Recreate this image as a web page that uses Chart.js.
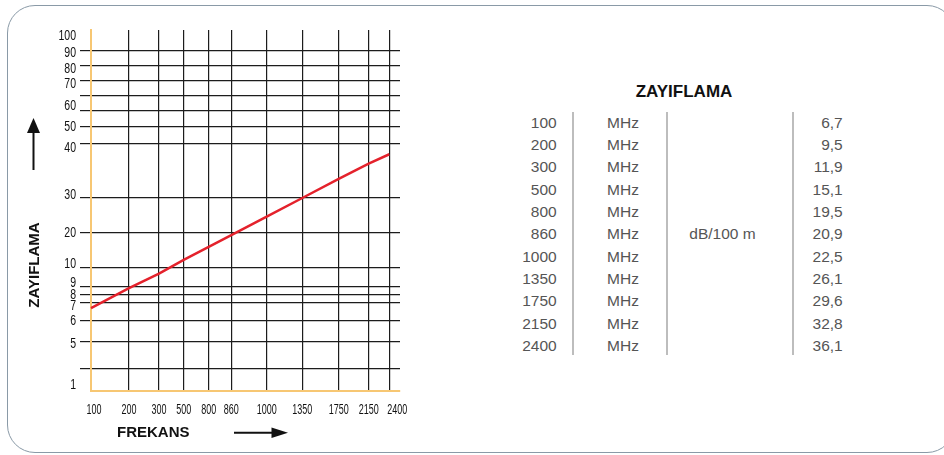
<!DOCTYPE html>
<html>
<head>
<meta charset="utf-8">
<script src="https://cdn.jsdelivr.net/npm/chart.js@4.4.1/dist/chart.umd.min.js"></script>
<style>
  html, body { margin: 0; padding: 0; background: #fff; }
  body { width: 944px; height: 455px; position: relative; overflow: hidden;
         font-family: "Liberation Sans", Arial, sans-serif; }
  .card { position: absolute; left: 7px; top: 5px; width: 948px; height: 448px;
          border: 1.5px solid #8a9aa7; border-radius: 28px; box-sizing: border-box; }
  #chart { position: absolute; left: 0; top: 0; }
  .tbl-title { position: absolute; left: 584px; width: 200px; top: 82px; text-align: center;
               font-weight: bold; font-size: 17px; color: #111; line-height: 20px; }
  .col { position: absolute; top: 111.9px; font-size: 15.5px; line-height: 22.3px; color: #555; }
  .col div { height: 22.3px; white-space: nowrap; }
  .sep { position: absolute; top: 112px; height: 243px; width: 2px; background: #bdbdbd; }
</style>
</head>
<body>
<div class="card"></div>
<canvas id="chart" width="420" height="455"></canvas>

<div class="tbl-title">ZAYIFLAMA</div>
<div class="col" id="colFreq" style="left:500px;width:56.7px;text-align:right"></div>
<div class="sep" style="left:571.7px"></div>
<div class="col" id="colMhz" style="left:583px;width:80px;text-align:center"></div>
<div class="sep" style="left:665.7px"></div>
<div class="col" id="colUnit" style="left:672px;width:101px;text-align:center"></div>
<div class="sep" style="left:792.3px"></div>
<div class="col" id="colVal" style="left:780px;width:62.7px;text-align:right"></div>

<script>
// frequencies (MHz) on the x axis and in the table
const frequencies = [100, 200, 300, 500, 800, 860, 1000, 1350, 1750, 2150, 2400];
// attenuation values from the table (dB/100 m)
const attenuationTable = [6.7, 9.5, 11.9, 15.1, 19.5, 20.9, 22.5, 26.1, 29.6, 32.8, 36.1];
// red curve at each frequency gridline
const curveReadout = [6.7, 8.8, 9.7, 12.3, 15.9, 19.2, 24.6, 30.0, 33.5, 36.3, 38.0];
// y axis tick values (gridlines) and the labels shown next to them
const yTickValues = [1, 3, 5, 6, 7, 8, 9, 10, 20, 30, 40, 50, 60, 65, 70, 80, 90, 100];
const yTickLabels = ['1', '', '5', '6', '7', '8', '9', '10', '20', '30', '40', '50', '60', '', '70', '80', '90', '100'];
const unitLabel = 'MHz';
const tableUnit = 'dB/100 m';

// fill table
const fmt = v => v.toFixed(1).replace('.', ',');
document.getElementById('colFreq').innerHTML = frequencies.map(f => '<div>' + f + '</div>').join('');
document.getElementById('colMhz').innerHTML = frequencies.map(() => '<div>' + unitLabel + '</div>').join('');
document.getElementById('colUnit').innerHTML = frequencies.map((f, i) => '<div>' + (i === 5 ? tableUnit : '') + '</div>').join('');
document.getElementById('colVal').innerHTML = attenuationTable.map(v => '<div>' + fmt(v) + '</div>').join('');

// non uniform axis: value -> fraction of axis length, linear between stops
class PiecewiseScale extends Chart.LinearScale {
    determineDataLimits() {
        const s = this.options.stops;
        this.min = s[0][0];
        this.max = s[s.length - 1][0];
    }
    buildTicks() {
        return this.options.tickValues.map(v => ({ value: v }));
    }
    _decimal(value) {
        const s = this.options.stops;
        if (value <= s[0][0]) return s[0][1];
        for (let i = 1; i < s.length; i++) {
            if (value <= s[i][0]) {
                const [v0, d0] = s[i - 1], [v1, d1] = s[i];
                return d0 + (value - v0) / (v1 - v0) * (d1 - d0);
            }
        }
        return s[s.length - 1][1];
    }
    getPixelForValue(value) {
        if (value === null || isNaN(value)) return NaN;
        return this.getPixelForDecimal(this._decimal(value));
    }
    getValueForPixel(pixel) {
        const d = this.getDecimalForPixel(pixel);
        const s = this.options.stops;
        for (let i = 1; i < s.length; i++) {
            if (d <= s[i][1]) {
                const [v0, d0] = s[i - 1], [v1, d1] = s[i];
                return v0 + (d - d0) / (d1 - d0) * (v1 - v0);
            }
        }
        return this.max;
    }
}
PiecewiseScale.id = 'piecewise';
Chart.register(PiecewiseScale);

const ORANGE = '#f7c773';
const GRID = '#1c1c1c';

// the original tick font is a condensed face, so labels are squeezed horizontally
function drawSqueezed(ctx, text, x, y, align, squeeze) {
    ctx.save();
    ctx.translate(x, y);
    ctx.scale(squeeze, 1);
    ctx.textAlign = align;
    ctx.textBaseline = 'middle';
    ctx.fillText(text, 0, 0);
    ctx.restore();
}

const decorations = {
    id: 'decorations',
    afterDraw(chart) {
        const ctx = chart.ctx;
        const xs = chart.scales.x, ys = chart.scales.y;
        ctx.save();
        ctx.fillStyle = '#111';
        ctx.font = "15.5px 'Liberation Sans', Arial, sans-serif";
        // tick labels, placed from the scales
        const yNudge = { 1: -6, 60: -5, 90: 2, 80: 3, 70: 3, 40: 4, 30: -3, 10: -4, 9: -4, 7: 3, 5: 2 };
        ys.ticks.forEach((t, i) => {
            const label = yTickLabels[yTickValues.indexOf(t.value)];
            if (!label) return;
            drawSqueezed(ctx, label, 76, ys.getPixelForTick(i) + (yNudge[t.value] || 0), 'right', 0.68);
        });
        ctx.font = "15px 'Liberation Sans', Arial, sans-serif";
        const xNudge = { 100: 3, 2400: 8 };
        xs.ticks.forEach((t, i) => {
            drawSqueezed(ctx, String(t.value), xs.getPixelForTick(i) + (xNudge[t.value] || 0), 410, 'center', 0.6);
        });

        ctx.fillStyle = '#111';
        ctx.strokeStyle = '#111';
        ctx.font = "bold 15px 'Liberation Sans', Arial, sans-serif";
        // y title
        ctx.save();
        ctx.translate(35, 265);
        ctx.rotate(-Math.PI / 2);
        ctx.textAlign = 'center';
        ctx.textBaseline = 'middle';
        ctx.fillText('ZAYIFLAMA', 0, 0);
        ctx.restore();
        // y arrow
        ctx.lineWidth = 2;
        ctx.beginPath(); ctx.moveTo(33.5, 170); ctx.lineTo(33.5, 130); ctx.stroke();
        ctx.beginPath(); ctx.moveTo(33.5, 118); ctx.lineTo(40, 133); ctx.lineTo(27, 133); ctx.closePath(); ctx.fill();
        // x title
        ctx.textAlign = 'left';
        ctx.textBaseline = 'middle';
        ctx.fillText('FREKANS', 117, 433);
        // x arrow
        ctx.beginPath(); ctx.moveTo(234, 432.7); ctx.lineTo(275, 432.7); ctx.stroke();
        ctx.beginPath(); ctx.moveTo(288, 432.7); ctx.lineTo(271.5, 427.4); ctx.lineTo(271.5, 438); ctx.closePath(); ctx.fill();
        ctx.restore();
    }
};

new Chart(document.getElementById('chart'), {
    type: 'line',
    data: {
        datasets: [{
            data: frequencies.map((f, i) => ({ x: f, y: curveReadout[i] })),
            borderColor: '#e4222c',
            borderWidth: 2.5,
            pointRadius: 0,
            tension: 0,
            fill: false,
        }]
    },
    options: {
        responsive: false,
        animation: false,
        layout: { padding: { left: 0, right: 20, top: 30, bottom: 0 } },
        plugins: { legend: { display: false }, tooltip: { enabled: false } },
        scales: {
            x: {
                type: 'piecewise',
                stops: [[100, 0], [200, 0.1230], [300, 0.2201], [500, 0.3000], [800, 0.3809], [860, 0.4540],
                        [1000, 0.5686], [1350, 0.6838], [1750, 0.8016], [2150, 0.8987], [2400, 0.9654], [2500, 1]],
                tickValues: frequencies,
                afterFit: s => { s.height = 64; },
                grid: {
                    color: c => (c.tick && c.tick.value === 100) ? 'rgba(0,0,0,0)' : GRID,
                    lineWidth: 1.2,
                    drawTicks: false,
                },
                border: { color: ORANGE, width: 2 },
                ticks: { display: false, autoSkip: false, maxRotation: 0 }
            },
            y: {
                type: 'piecewise',
                stops: [[1, 0], [3, 0.0629], [5, 0.1357], [6, 0.1939], [7, 0.2446], [8, 0.2679], [9, 0.2889],
                        [10, 0.3407], [20, 0.4396], [30, 0.5346], [40, 0.6861], [50, 0.7332], [60, 0.7756],
                        [65, 0.8172], [70, 0.8596], [80, 0.9011], [90, 0.9427], [100, 0.9834], [110, 1]],
                tickValues: yTickValues,
                afterFit: s => { s.width = 91; },
                grid: {
                    color: c => (c.tick && (c.tick.value === 100 || c.tick.value === 1)) ? 'rgba(0,0,0,0)' : GRID,
                    lineWidth: 1.2,
                    drawTicks: true,
                    tickLength: 11,
                },
                border: { color: ORANGE, width: 2 },
                ticks: { display: false, autoSkip: false }
            }
        }
    },
    plugins: [decorations]
});
</script>
</body>
</html>
